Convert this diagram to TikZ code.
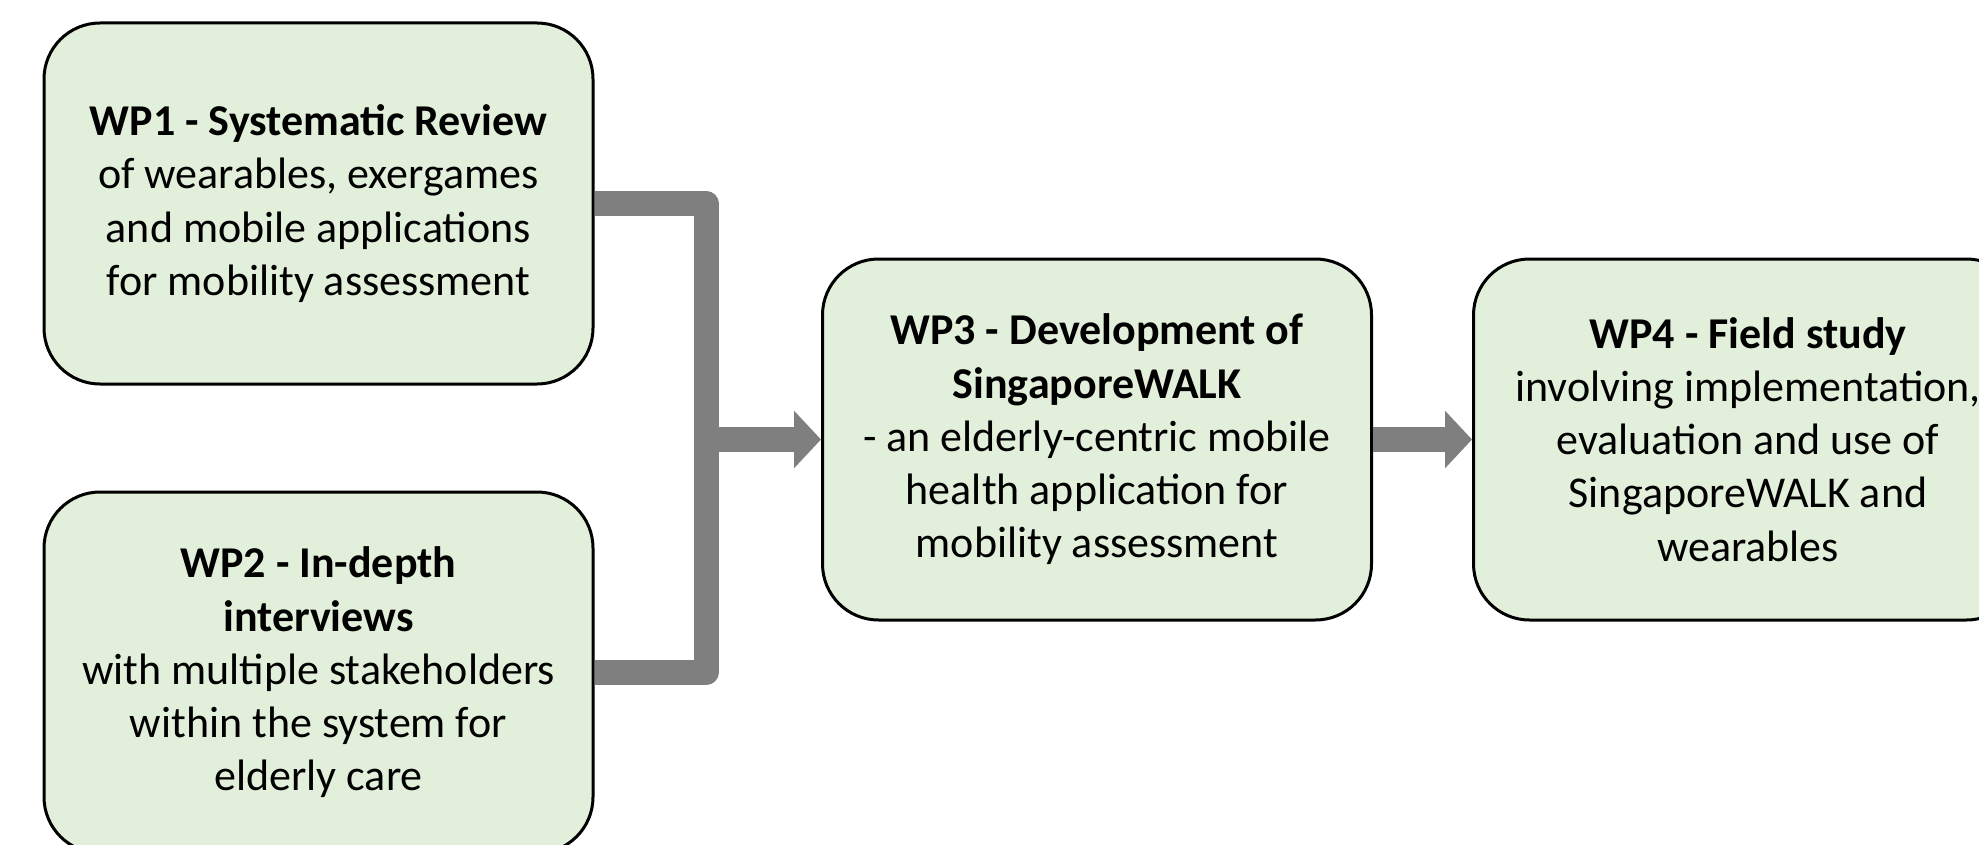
\documentclass[tikz,border=0pt]{standalone}
\usepackage{fontspec}
\setmainfont{Carlito}
\usetikzlibrary{arrows.meta}
\definecolor{boxgreen}{HTML}{E2EFDA}
\definecolor{bargray}{HTML}{7F7F7F}
\tikzset{
  wpbox/.style={draw=black, line width=1.5pt, fill=boxgreen, rounded corners=28pt,
    minimum width=274.5pt, minimum height=180.5pt, align=center,
    font=\fontsize{22}{26.6}\selectfont},
  bar/.style={draw=bargray, line width=12.5pt, line join=round},
  bararrow/.style={bar, -{Triangle[length=13.5pt,width=28pt]}}
}
\begin{document}
\begin{tikzpicture}[x=0.5pt,y=-0.5pt]
\useasboundingbox (0,0) rectangle (1979,845);
\clip (0,0) rectangle (1979,845);
\node [wpbox, at = {(318.5,203.5)}] (wp1) {\textbf{WP1 - Systematic Review}\\of wearables, exergames\\and mobile applications\\for mobility assessment};
\node [wpbox, at = {(318.5,672.5)}] (wp2) {\textbf{WP2 - In-depth}\\\textbf{interviews}\\with multiple stakeholders\\within the system for\\elderly care};
\node [wpbox, at = {(1097,439.5)}] (wp3) {\textbf{WP3 - Development of}\\\textbf{SingaporeWALK}\\- an elderly-centric mobile\\health application for\\mobility assessment};
\node [wpbox, at = {(1748,439.5)}] (wp4) {\textbf{WP4 - Field study}\\involving implementation,\\evaluation and use of\\SingaporeWALK and\\wearables};
\coordinate (top) at (706,203.5);
\coordinate (bottom) at (706,672.5);
\coordinate (merge) at (706,439.5);
% bracket joining WP1 and WP2
\draw [bar] (wp1.east) -- (top) -- (bottom) -- (wp2.east);
\draw [bararrow] (merge) -- (wp3.west);
\draw [bararrow] (wp3.east) -- (wp4.west);
\end{tikzpicture}
\end{document}
